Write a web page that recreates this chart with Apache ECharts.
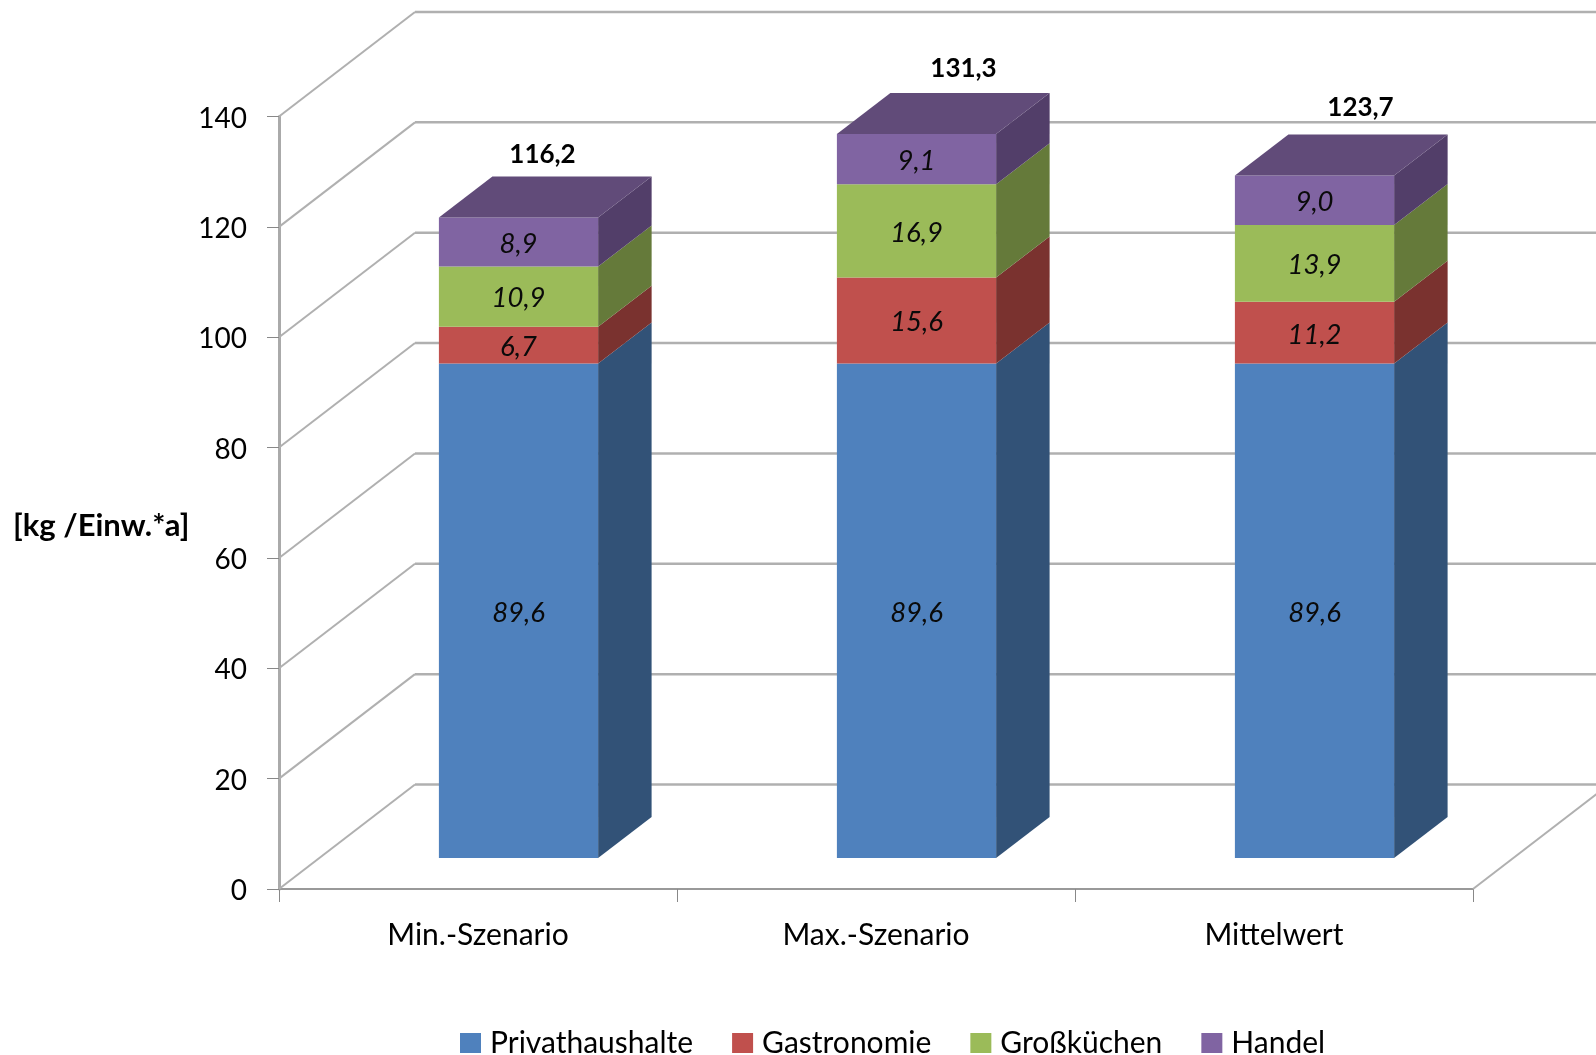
<!DOCTYPE html>
<html lang="de">
<head>
<meta charset="utf-8">
<title>Lebensmittelabfälle</title>
<style>
  html, body { margin: 0; padding: 0; background: #fff; }
  #chart { width: 1596px; height: 1055px; }
</style>
<script src="https://cdn.jsdelivr.net/npm/echarts@6/dist/echarts.min.js"></script>
</head>
<body>
<div id="chart"></div>
<script>
// Categories and values, one list per waste source
const categories = ['Min.-Szenario', 'Max.-Szenario', 'Mittelwert'];
const privathaushalte = [89.6, 89.6, 89.6];
const gastronomie = [6.7, 15.6, 11.2];
const grosskuechen = [10.9, 16.9, 13.9];
const handel = [8.9, 9.1, 9.0];
const totals = [116.2, 131.3, 123.7];
const yTicks = [0, 20, 40, 60, 80, 100, 120, 140];

const seriesNames = ['Privathaushalte', 'Gastronomie', 'Großküchen', 'Handel'];
const seriesValues = [privathaushalte, gastronomie, grosskuechen, handel];

// Face colours of the extruded columns
const frontColors = ['#4f81bd', '#c0504d', '#9bbb59', '#8064a2'];
const sideColors = ['#325277', '#7a322f', '#657a3a', '#523e69'];
const topColor = '#614b79';

// Pseudo-3D projection, in pixels
const FONT = 'Lato, "Open Sans", sans-serif';
const WALL_DX = 136, WALL_DY = 104.5;   // depth of the floor
const FRONT_DX = 40.5, FRONT_DY = 31;   // floor edge to column front
const COL_DX = 53.5, COL_DY = 41;       // depth of a column
const GRID_LINE = '#b0b0b0';
const totalLabelShift = [[24, -21], [47, -24], [46, -27]];

const comma = v => v.toFixed(1).replace('.', ',');

// Side walls and back wall: one set of guide lines per axis tick
function renderWallLine(params, api) {
  const sys = params.coordSys;
  const y = api.coord([0, api.value(0)])[1];
  const x0 = sys.x, xb = x0 + WALL_DX, yb = y - WALL_DY;
  const right = x0 + sys.width;
  const children = [
    { type: 'line', shape: { x1: x0, y1: y, x2: xb, y2: yb },
      style: { stroke: GRID_LINE, lineWidth: 2 } },
    { type: 'line', shape: { x1: xb, y1: yb, x2: right + WALL_DX, y2: yb },
      style: { stroke: GRID_LINE, lineWidth: 2.5 } }
  ];
  if (api.value(0) === 0) {
    // Right-hand edge of the floor
    children.push({ type: 'line', shape: { x1: right, y1: y, x2: right + WALL_DX, y2: yb },
      style: { stroke: GRID_LINE, lineWidth: 2 } });
  }
  return { type: 'group', children };
}

// One stacked segment: front face, side face, value label and, on the last segment, the lid
function makeSegmentRenderer(seriesIndex) {
  return function (params, api) {
    const cat = api.value(0), base = api.value(1), top = api.value(2);
    const w = api.size([1, 0])[0] * 0.4;
    const pBase = api.coord([cat, base]);
    const pTop = api.coord([cat, top]);
    const xl = pBase[0] - w / 2 + FRONT_DX, xr = xl + w;
    const yb = pBase[1] - FRONT_DY, yt = pTop[1] - FRONT_DY;
    const children = [
      { type: 'polygon',
        shape: { points: [[xr, yb], [xr + COL_DX, yb - COL_DY], [xr + COL_DX, yt - COL_DY], [xr, yt]] },
        style: { fill: sideColors[seriesIndex] } },
      { type: 'rect', shape: { x: xl, y: yt, width: w, height: yb - yt },
        style: { fill: frontColors[seriesIndex] } }
    ];
    if (seriesIndex === seriesValues.length - 1) {
      children.push({ type: 'polygon',
        shape: { points: [[xl, yt], [xl + COL_DX, yt - COL_DY], [xr + COL_DX, yt - COL_DY], [xr, yt]] },
        style: { fill: topColor } });
    }
    children.push({ type: 'text',
      style: { text: comma(top - base), x: (xl + xr) / 2, y: (yt + yb) / 2 + 2,
        align: 'center', verticalAlign: 'middle', fill: '#0a0a0a',
        font: 'italic 27.5px ' + FONT } });
    return { type: 'group', children };
  };
}

// Bold sum above each column
function renderTotal(params, api) {
  const cat = api.value(0), shift = totalLabelShift[cat];
  const p = api.coord([cat, api.value(1)]);
  return { type: 'text',
    style: { text: comma(api.value(1)),
      x: p[0] + FRONT_DX + shift[0], y: p[1] - FRONT_DY - COL_DY + shift[1],
      align: 'center', verticalAlign: 'middle', fill: '#000',
      font: 'bold 26px ' + FONT } };
}

const running = categories.map(() => 0);
const segmentSeries = seriesNames.map((name, s) => ({
  name,
  type: 'custom',
  clip: false,
  z: 3,
  renderItem: makeSegmentRenderer(s),
  encode: { x: 0, y: 2 },
  itemStyle: { color: frontColors[s] },
  data: seriesValues[s].map((v, i) => {
    const base = running[i];
    running[i] = base + v;
    return [i, base, running[i]];
  })
}));

const chart = echarts.init(document.getElementById('chart'));
chart.setOption({
  animation: false,
  backgroundColor: '#fff',
  textStyle: { fontFamily: FONT },
  title: {
    text: '[kg /Einw.*a]', left: 8, top: 505,
    textStyle: { fontFamily: FONT, fontWeight: 'bold', fontSize: 31, color: '#000' }
  },
  legend: {
    data: seriesNames, left: 460, top: 1028, padding: 0,
    icon: 'rect', itemWidth: 21, itemHeight: 20, itemGap: 39,
    textStyle: { fontFamily: FONT, fontSize: 30, color: '#000', padding: [0, 0, 0, 4] }
  },
  grid: { left: 279, right: 123, top: 116.5, bottom: 166, containLabel: false },
  xAxis: {
    type: 'category', data: categories,
    axisLine: { lineStyle: { color: '#999', width: 2 } },
    axisTick: { show: true, length: 13, lineStyle: { color: '#888', width: 1 } },
    axisLabel: { margin: 31, fontFamily: FONT, fontSize: 30, color: '#000' }
  },
  yAxis: {
    type: 'value', min: 0, max: 140, interval: 20,
    axisLine: { show: true, lineStyle: { color: '#aaa', width: 3 } },
    axisTick: { show: true, length: 12, lineStyle: { color: '#888', width: 1 } },
    splitLine: { show: false },
    axisLabel: {
      margin: 32, fontFamily: FONT, fontSize: 28, color: '#000',
      formatter: '{tick|{value}}',
      rich: { tick: { fontFamily: FONT, fontSize: 28, color: '#000', padding: [4, 0, 0, 0] } }
    }
  },
  series: [
    { name: 'Wände', type: 'custom', clip: false, z: 1, silent: true,
      renderItem: renderWallLine, encode: { y: 0 },
      data: yTicks.map(t => [t]) },
    ...segmentSeries,
    { name: 'Summe', type: 'custom', clip: false, z: 4, silent: true,
      renderItem: renderTotal, encode: { x: 0, y: 1 },
      data: totals.map((t, i) => [i, t]) }
  ]
});
</script>
</body>
</html>
